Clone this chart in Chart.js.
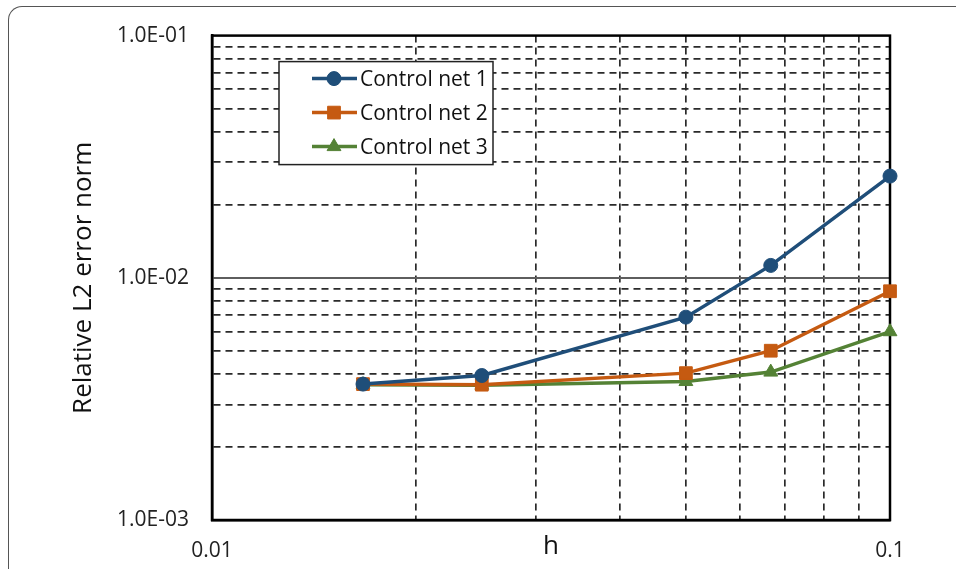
<!DOCTYPE html>
<html>
<head>
<meta charset="utf-8">
<script src="https://cdn.jsdelivr.net/npm/chart.js@4.4.1/dist/chart.umd.min.js"></script>
<style>
  html, body { margin: 0; padding: 0; background: #fff; overflow: hidden; }
  #wrap { position: relative; width: 956px; height: 569px; }
  #frame { position: absolute; left: 8px; top: 6px; width: 1100px; height: 700px;
           border-left: 1.5px solid #555; border-top: 1.5px solid #555; border-top-left-radius: 14px; }
  canvas { position: absolute; left: 0; top: 0; }
</style>
</head>
<body>
<div id="wrap"><div id="frame"></div><canvas id="chart" width="956" height="569"></canvas></div>
<script>
// mesh size h and relative L2 error for each control net
const hValues = [0.0167, 0.025, 0.05, 0.0667, 0.1];
const net1 = [0.00364, 0.00395, 0.00688, 0.01125, 0.0263];
const net2 = [0.00364, 0.00362, 0.00404, 0.00500, 0.00880];
const net3 = [0.00362, 0.00360, 0.00373, 0.00408, 0.00599];

// axes: grid ticks and the few that carry a label
const xTicks = [0.01, 0.02, 0.03, 0.04, 0.05, 0.06, 0.07, 0.08, 0.09, 0.1];
const xLabelValues = [0.01, 0.1];
const xLabelText = ['0.01', '0.1'];
const yTicks = [0.001, 0.002, 0.003, 0.004, 0.005, 0.006, 0.007, 0.008, 0.009,
                0.01, 0.02, 0.03, 0.04, 0.05, 0.06, 0.07, 0.08, 0.09, 0.1];
const yLabelValues = [0.001, 0.01, 0.1];
const yLabelText = ['1.0E-03', '1.0E-02', '1.0E-01'];
const yMajor = [0.01];

const FONT = 'Open Sans';
const GRID = '#2a2a2a';
const same = (a, b) => Math.abs(a - b) / b < 1e-6;
const labelFor = (v, vals, txt) => { const i = vals.findIndex((t) => same(v, t)); return i < 0 ? '' : txt[i]; };
const isIn = (v, vals) => vals.some((t) => same(v, t));

function pts(ys) { return hValues.map((h, i) => ({ x: h, y: ys[i] })); }

// solid decade line + black frame round the plot
const plotFrame = {
  id: 'plotFrame',
  beforeDatasetsDraw(chart) {
    const { ctx, chartArea: a, scales: { y } } = chart;
    ctx.save();
    ctx.strokeStyle = '#5e5e5e'; ctx.lineWidth = 2;
    yMajor.forEach((v) => {
      const py = Math.round(y.getPixelForValue(v));
      ctx.beginPath(); ctx.moveTo(a.left, py); ctx.lineTo(a.right, py); ctx.stroke();
    });
    ctx.strokeStyle = '#000'; ctx.lineWidth = 2.5;
    ctx.strokeRect(a.left, a.top, a.right - a.left, a.bottom - a.top);
    ctx.restore();
  },
};

// boxed legend inside the plot, top left
const boxLegend = {
  id: 'boxLegend',
  afterDraw(chart) {
    const { ctx, chartArea: a } = chart;
    const x0 = a.left + 67, y0 = a.top + 26, w = 214, h = 103, row = 34;
    ctx.save();
    ctx.fillStyle = '#fff'; ctx.fillRect(x0, y0, w, h);
    ctx.strokeStyle = '#222'; ctx.lineWidth = 1.5; ctx.strokeRect(x0, y0, w, h);
    ctx.font = `21px "${FONT}"`; ctx.textBaseline = 'middle';
    chart.data.datasets.forEach((ds, i) => {
      const cy = y0 + 17 + i * row;
      ctx.strokeStyle = ds.borderColor; ctx.lineWidth = ds.borderWidth;
      ctx.beginPath(); ctx.moveTo(x0 + 33, cy); ctx.lineTo(x0 + 78, cy); ctx.stroke();
      ctx.fillStyle = ds.backgroundColor; ctx.lineWidth = 1;
      Chart.helpers.drawPoint(ctx, { pointStyle: ds.pointStyle, radius: ds.pointRadius, borderWidth: 1, rotation: 0 }, x0 + 55, cy);
      ctx.fillStyle = '#111';
      ctx.fillText(ds.label, x0 + 81, cy + 1);
    });
    ctx.restore();
  },
};

function series(label, ys, color, style, r) {
  return {
    label, data: pts(ys), borderColor: color, backgroundColor: color,
    borderWidth: 3.5, pointStyle: style, pointRadius: r, pointHoverRadius: r,
    pointBorderWidth: 1, pointBackgroundColor: color, pointBorderColor: color,
    tension: 0, clip: false,
  };
}

new Chart(document.getElementById('chart'), {
  type: 'line',
  data: {
    datasets: [
      series('Control net 1', net1, '#1F4E79', 'circle', 7),
      series('Control net 2', net2, '#C55A11', 'rect', 9),
      series('Control net 3', net3, '#548235', 'triangle', 8),
    ],
  },
  options: {
    responsive: false, animation: false,
    layout: { padding: { top: 33, right: 66, left: 0, bottom: 0 } },
    plugins: { legend: { display: false }, tooltip: { enabled: false } },
    scales: {
      x: {
        type: 'logarithmic', min: 0.01, max: 0.1,
        afterBuildTicks: (s) => { s.ticks = xTicks.map((v) => ({ value: v })); },
        afterFit: (s) => { s.height = 49; },
        ticks: { autoSkip: false, maxRotation: 0, padding: 18, color: '#222',
                 font: { family: FONT, size: 21 }, callback: (v) => labelFor(v, xLabelValues, xLabelText) },
        grid: { drawTicks: false, lineWidth: 1.7,
                color: (c) => (c.tick && isIn(c.tick.value, xLabelValues) ? 'rgba(0,0,0,0)' : GRID) },
        border: { display: true, color: '#000', width: 2.5, dash: [7, 5] },
        title: { display: true, text: 'h', color: '#111', font: { family: FONT, size: 26 }, padding: { top: 0, bottom: 7 } },
      },
      y: {
        type: 'logarithmic', min: 0.001, max: 0.1,
        afterBuildTicks: (s) => { s.ticks = yTicks.map((v) => ({ value: v })); },
        afterFit: (s) => { s.width = 212; },
        ticks: { autoSkip: false, padding: 23, color: '#222',
                 font: { family: FONT, size: 21 }, callback: (v) => labelFor(v, yLabelValues, yLabelText) },
        grid: { drawTicks: false, lineWidth: 1.7,
                color: (c) => (c.tick && isIn(c.tick.value, yLabelValues) ? 'rgba(0,0,0,0)' : GRID) },
        border: { display: true, color: '#000', width: 2.5, dash: [7, 5] },
        title: { display: true, text: 'Relative L2 error norm', color: '#111',
                 font: { family: FONT, size: 26 }, padding: { top: 68, bottom: 0 } },
      },
    },
  },
  plugins: [plotFrame, boxLegend],
});
</script>
</body>
</html>
